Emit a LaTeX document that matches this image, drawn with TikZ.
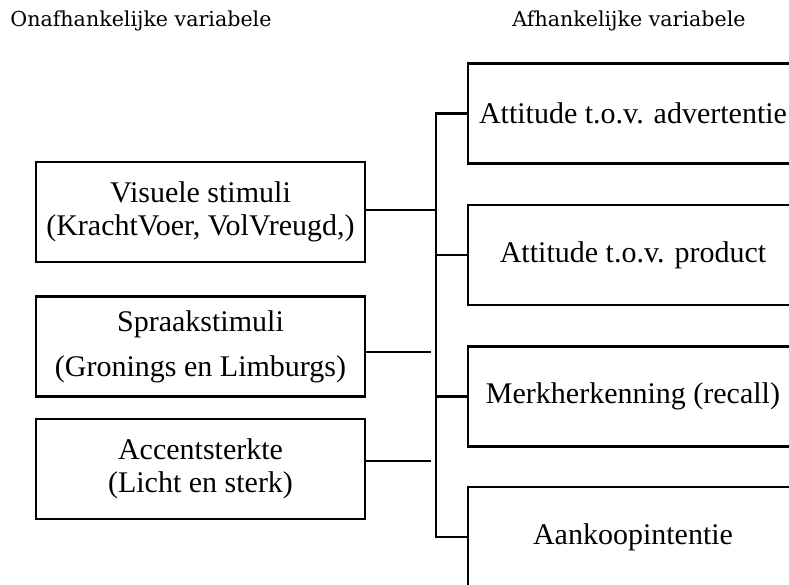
\documentclass[tikz,border=0pt]{standalone}
\usepackage{fontspec}
\setmainfont{Liberation Serif}
\newfontfamily\headfont{DejaVu Serif}
\begin{document}
\begin{tikzpicture}[x=0.5pt,y=-0.5pt,
  box/.style={draw=black, line width=1.35pt, minimum width=164.5pt, minimum height=50pt,
    inner sep=0pt, align=center, font=\fontsize{15}{16.5}\selectfont},
  link/.style={draw=black, line width=1.35pt},
  head/.style={font=\headfont\fontsize{10.3}{12}\selectfont, inner sep=0pt}]
\useasboundingbox (0,0) rectangle (789,585);
% headings
\node[head, anchor=base west] (h1) at (10,26) {Onafhankelijke variabele};
\node[head, anchor=base] (h2) at (629,26) {Afhankelijke variabele};
% independent variables
\node[box] (vis) at (200.5,212) {Visuele stimuli\\(KrachtVoer, VolVreugd,)};
\node[box] (spr) at (200.5,346.5) {Spraakstimuli\\[6pt](Gronings en Limburgs)};
\node[box] (acc) at (200.5,469) {\raisebox{-1.5pt}{\begin{tabular}{@{}c@{}}Accentsterkte\\(Licht en sterk)\end{tabular}}};
% dependent variables
\node[box, minimum width=165pt] (adv) at (633,113.5) {Attitude t.o.v. advertentie};
\node[box, minimum width=165pt] (pro) at (633,255) {Attitude t.o.v. product};
\node[box, minimum width=165pt] (mer) at (633,396.5) {Merkherkenning (recall)};
\node[box, minimum width=165pt] (aan) at (633,537) {Aankoopintentie};
% trunk
\coordinate (tr) at (436,0);
\draw[link] (adv.west) -- (tr |- adv.west) -- (tr |- aan.west) -- (aan.west);
\draw[link] (tr |- pro.west) -- (pro.west);
\draw[link] (tr |- mer.west) -- (mer.west);
% inputs
\coordinate (jv) at (436,210);
\coordinate (js) at (431,352);
\coordinate (ja) at (431,461);
\draw[link] (vis.east |- jv) -- (jv);
\draw[link] (spr.east |- js) -- (js);
\draw[link] (acc.east |- ja) -- (ja);
\end{tikzpicture}
\end{document}
